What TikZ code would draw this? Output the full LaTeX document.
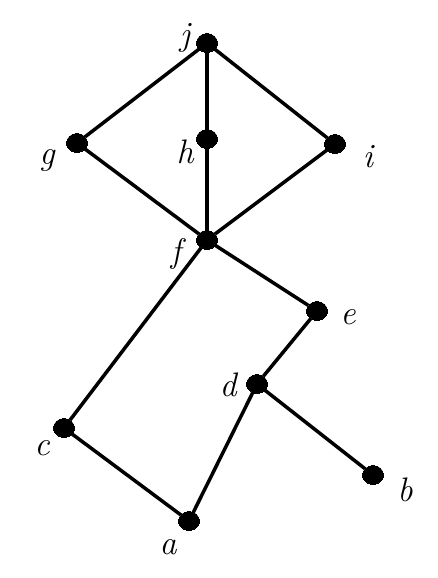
\documentclass[tikz,border=0pt]{standalone}
\usetikzlibrary{shapes.geometric}

\begin{document}
\begin{tikzpicture}[x=1pt, y=-1pt, line width=3.5pt,
    main/.style = {draw, fill, ellipse, inner sep=0pt, minimum width=21pt, minimum height=19pt, line width=0pt},
    lab/.style = {font=\fontsize{34}{40}\selectfont\itshape, inner sep=0pt}]
    \useasboundingbox (0,0) rectangle (438,578);

    \node[main, label={[lab, xshift=-22pt, yshift=5pt]center:j}] (j) at (207,43) {};
    \node[main, label={[lab, xshift=-30pt, yshift=-17pt]center:g}] (g) at (77,143) {};
    \node[main, label={[lab, xshift=-22pt, yshift=-13pt]center:h}] (h) at (207,139) {};
    \node[main, label={[lab, xshift=33pt, yshift=-13pt]center:i}] (i) at (335,144) {};
    \node[main, label={[lab, xshift=-31pt, yshift=-14pt]center:f}] (f) at (207,240) {};
    \node[main, label={[lab, xshift=31pt, yshift=-6pt]center:e}] (e) at (317,311) {};
    \node[main, label={[lab, xshift=-29pt, yshift=-1pt]center:d}] (d) at (257,384) {};
    \node[main, label={[lab, xshift=-22pt, yshift=-20pt]center:c}] (c) at (64,428) {};
    \node[main, label={[lab, xshift=32pt, yshift=-15pt]center:b}] (b) at (373,475) {};
    \node[main, label={[lab, xshift=-21pt, yshift=-26pt]center:a}] (a) at (189,521) {};

    \draw (j) -- (g);
    \draw (j) -- (h);
    \draw (j) -- (i);
    \draw (g) -- (f);
    \draw (h) -- (f);
    \draw (i) -- (f);
    \draw (f) -- (e);
    \draw (f) -- (c);
    \draw (e) -- (d);
    \draw (d) -- (b);
    \draw (d) -- (a);
    \draw (c) -- (a);

\end{tikzpicture}
\end{document}
